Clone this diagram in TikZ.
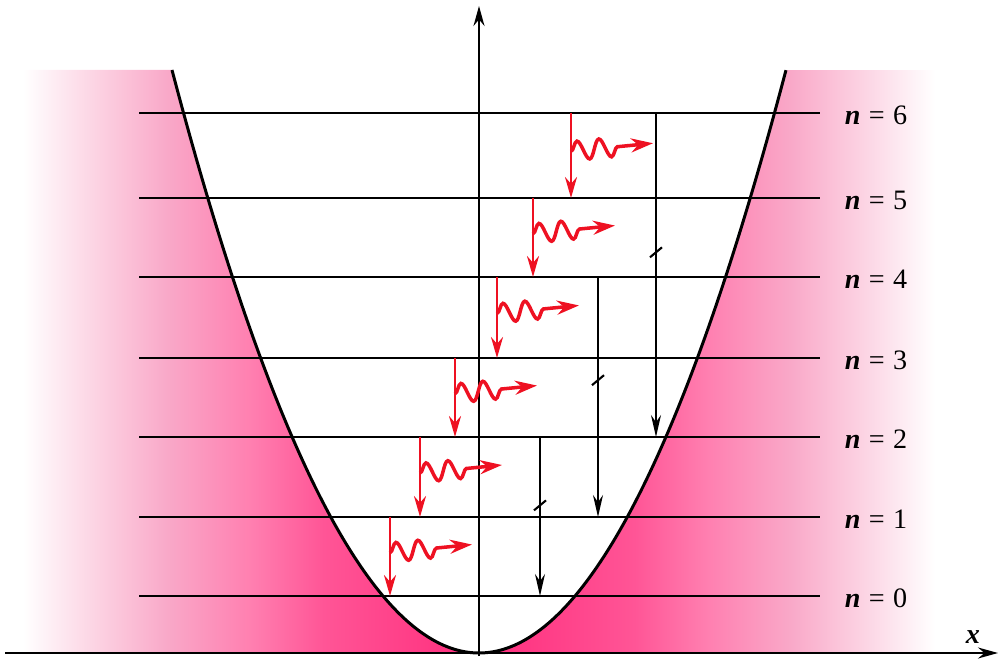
\documentclass[tikz,border=0pt]{standalone}
\usepackage{fontspec}
\setmainfont{Liberation Serif}
\usetikzlibrary{calc, positioning, arrows.meta, decorations.pathmorphing}

\definecolor{pk1}{HTML}{FCD3E3}
\definecolor{pk2}{HTML}{F9A8C8}
\definecolor{pk3}{HTML}{FF7FB0}
\definecolor{pk4}{HTML}{FF5596}
\definecolor{pk5}{HTML}{FF2C7C}
\definecolor{emitred}{HTML}{EE1122}
% stops between 25bp and 75bp span the filled path
\pgfdeclarehorizontalshading{wellpink}{100bp}{color(0bp)=(white); color(28bp)=(white);
  color(31.5bp)=(pk1); color(35bp)=(pk2); color(39bp)=(pk3); color(42.5bp)=(pk4);
  color(50bp)=(pk5); color(57.5bp)=(pk4); color(61bp)=(pk3); color(65bp)=(pk2);
  color(68.5bp)=(pk1); color(72bp)=(white); color(100bp)=(white)}

\begin{document}
\begin{tikzpicture}[x=0.02cm, y=0.02cm,
    level/.style={line width=1.2pt},
    well/.style={line width=1.7pt},
    axis/.style={line width=1.1pt, -{Stealth[length=4mm, width=2.2mm]}},
    emit/.style={emitred, line width=1.5pt, -{Stealth[length=4.2mm, width=2.4mm]}},
    photon/.style={emitred, line width=2pt, -{Stealth[length=4.4mm, width=2.8mm]},
      decorate, decoration={snake, amplitude=1.9mm, segment length=4.4mm, post length=6mm}},
    jump/.style={line width=1pt, -{Stealth[length=4.4mm, width=2mm]}},
    lab/.style={font=\fontsize{16}{18}\selectfont, inner sep=0pt}]
  \useasboundingbox (0,0) rectangle (998,660);

  % potential outside the well
  \shade[shading=wellpink] (-39,7) -- (-39,590) -- (172,590)
    -- plot[domain=-3.07:3.07, samples=121] ({479+100*\x},{7+61.858*\x*\x})
    -- (997,590) -- (997,7) -- cycle;

  % energy levels
  \foreach \n/\y in {0/64, 1/143, 2/223, 3/302, 4/383, 5/462, 6/547} {
    \coordinate (L\n) at (139,\y);
    \coordinate (R\n) at (820,\y);
    \draw[level] (L\n) -- (R\n);
    \node[lab] (lab\n) at (876,\y-2) {\textbf{\textit{n}}\hspace{0.3em}=\hspace{0.3em}\n};
  }

  \draw[well] plot[domain=-3.07:3.07, samples=121, smooth] ({479+100*\x},{7+61.858*\x*\x});

  % axes
  \coordinate (xs) at (5,7);
  \coordinate (xe) at (998,7);
  \draw[axis] (xs) -- (xe);
  \coordinate (ys) at (479,4);
  \coordinate (ye) at (479,654);
  \draw[axis] (ys) -- (ye);
  \node[lab] (xlab) at (973,23) {\textbf{\textit{x}}};

  % allowed steps with emitted photon
  \foreach \n/\m/\x in {6/5/571, 5/4/533, 4/3/497, 3/2/455, 2/1/420, 1/0/390} {
    \coordinate (e\n) at (L\n -| \x,0);
    \coordinate (f\n) at (L\m -| \x,0);
    \draw[emit] (e\n) -- (f\n);
    \coordinate (w\n) at ($(e\n)!.45!(f\n)$);
    \coordinate (g\n) at ($(w\n)+(82,8)$);
    \draw[photon] (w\n) -- (g\n);
  }

  % forbidden jumps
  \foreach \n/\m/\x in {6/2/656, 4/1/598, 2/0/540} {
    \coordinate (s\n) at (L\n -| \x,0);
    \coordinate (d\n) at (L\m -| \x,0);
    \draw[jump] (s\n) -- (d\n);
    \coordinate (k\n) at ($(s\n)!.43!(d\n)$);
    \draw[level] ($(k\n)+(-6,-5)$) -- ($(k\n)+(6,5)$);
  }
\end{tikzpicture}
\end{document}
